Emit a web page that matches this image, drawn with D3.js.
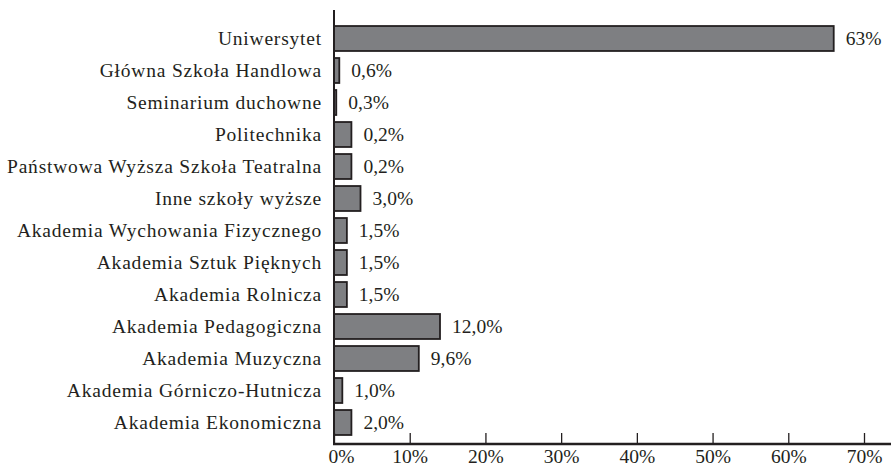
<!DOCTYPE html>
<html lang="pl">
<head>
    <meta charset="UTF-8">
    <title>Szkoły wyższe</title>
    <script src="https://d3js.org/d3.v7.min.js"></script>
    <style>
        body { margin: 0; background: #fff; }
        svg { display: block; }
        text { font-family: "Liberation Serif", "DejaVu Serif", serif; fill: #231f20; }
    </style>
</head>
<body>
    <div id="chart"></div>
    <script>
        // categories, top to bottom
        var categories = [
            "Uniwersytet",
            "Główna Szkoła Handlowa",
            "Seminarium duchowne",
            "Politechnika",
            "Państwowa Wyższa Szkoła Teatralna",
            "Inne szkoły wyższe",
            "Akademia Wychowania Fizycznego",
            "Akademia Sztuk Pięknych",
            "Akademia Rolnicza",
            "Akademia Pedagogiczna",
            "Akademia Muzyczna",
            "Akademia Górniczo-Hutnicza",
            "Akademia Ekonomiczna"
        ];
        // bar lengths as drawn (percent of axis)
        var barValues = [66.0, 0.7, 0.3, 2.3, 2.3, 3.5, 1.7, 1.7, 1.7, 14.0, 11.2, 1.1, 2.3];
        // printed labels
        var valueLabels = ["63%", "0,6%", "0,3%", "0,2%", "0,2%", "3,0%", "1,5%", "1,5%", "1,5%", "12,0%", "9,6%", "1,0%", "2,0%"];
        var tickValues = [0, 10, 20, 30, 40, 50, 60, 70];

        var width = 891, height = 467;
        var svg = d3.select("#chart").append("svg")
            .attr("width", width)
            .attr("height", height);

        var x = d3.scaleLinear().domain([0, 70]).range([334, 864]);
        var y = d3.scaleBand().domain(categories).range([22.5, 438.5]).paddingInner(0.22).paddingOuter(0.11);

        // bars
        svg.selectAll(".bar")
            .data(categories)
            .join("rect")
            .attr("class", "bar")
            .attr("x", x(0))
            .attr("y", function(d) { return y(d); })
            .attr("width", function(d, i) { return x(barValues[i]) - x(0); })
            .attr("height", y.bandwidth())
            .attr("fill", "#7e7f82")
            .attr("stroke", "#231f20")
            .attr("stroke-width", 1.8);

        // value labels
        svg.selectAll(".val")
            .data(categories)
            .join("text")
            .attr("class", "val")
            .attr("x", function(d, i) { return x(barValues[i]) + 12; })
            .attr("y", function(d) { return y(d) + y.bandwidth() / 2; })
            .attr("dy", "0.35em")
            .style("font-size", "19.5px")
            .text(function(d, i) { return valueLabels[i]; });

        // category labels
        svg.selectAll(".cat")
            .data(categories)
            .join("text")
            .attr("class", "cat")
            .attr("x", 322)
            .attr("y", function(d) { return y(d) + y.bandwidth() / 2; })
            .attr("dy", "0.35em")
            .attr("text-anchor", "end")
            .style("font-size", "19.5px")
            .style("letter-spacing", "0.8px")
            .text(function(d) { return d; });

        // y axis line
        svg.append("line")
            .attr("x1", x(0)).attr("x2", x(0))
            .attr("y1", 10).attr("y2", 444)
            .attr("stroke", "#231f20")
            .attr("stroke-width", 2);

        // x axis
        var xAxis = d3.axisBottom(x)
            .tickValues(tickValues)
            .tickFormat(function(d) { return d + "%"; })
            .tickSizeInner(-11)
            .tickSizeOuter(0)
            .tickPadding(5);

        var gx = svg.append("g")
            .attr("transform", "translate(0,444)")
            .call(xAxis);
        gx.select(".domain").remove();
        gx.append("line")
            .attr("x1", x(0) - 1).attr("x2", width)
            .attr("stroke", "#231f20")
            .attr("stroke-width", 2.5);
        gx.selectAll(".tick line").attr("stroke", "#231f20").attr("stroke-width", 1.3);
        gx.selectAll(".tick text")
            .attr("dx", function(d) { return d === 0 ? 7 : 0; })
            .style("font-size", "19.5px")
            .style("font-family", "'Liberation Serif', serif")
            .attr("fill", "#231f20");
    </script>
</body>
</html>
